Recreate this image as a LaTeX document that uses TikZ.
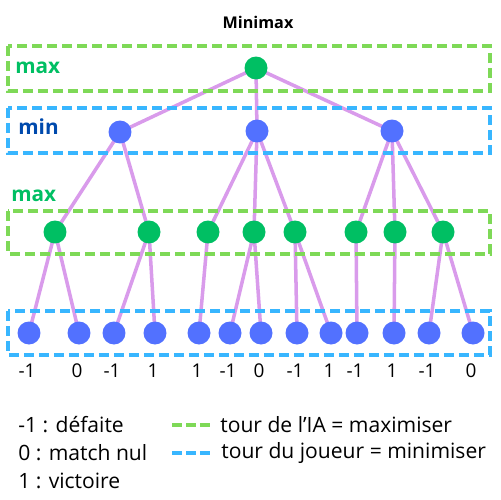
\documentclass[tikz,border=0pt]{standalone}
\usepackage{fontspec}
\setmainfont{Open Sans}
\definecolor{ngreen}{HTML}{00BF63}
\definecolor{nblue}{HTML}{5271FF}
\definecolor{edgec}{HTML}{D99BEB}
\definecolor{bgreen}{HTML}{7ED957}
\definecolor{bblue}{HTML}{38B6FF}
\definecolor{minlab}{HTML}{004AAD}
\pgfdeclarelayer{bg}
\pgfsetlayers{bg,main}
\begin{document}
\begin{tikzpicture}[x=0.02cm,y=-0.02cm,
  gnode/.style={circle,fill=ngreen,minimum size=0.46cm,inner sep=0pt},
  bnode/.style={circle,fill=nblue,minimum size=0.46cm,inner sep=0pt},
  edge/.style={draw=edgec,line width=2pt},
  gbox/.style={draw=bgreen,line width=2.2pt,dash pattern=on 0.2cm off 0.1cm},
  bbox/.style={draw=bblue,line width=2.2pt,dash pattern=on 0.2cm off 0.1cm},
  lab/.style={font=\fontsize{10.8}{12}\selectfont,inner sep=0pt},
  leg/.style={font=\fontsize{12}{14}\selectfont,inner sep=0pt,anchor=west},
  lvl/.style={font=\bfseries\fontsize{11.8}{13}\selectfont,anchor=west,inner sep=0pt}]
\useasboundingbox (0,0) rectangle (500,500);
% title
\node[font=\bfseries\fontsize{9.2}{11}\selectfont,inner sep=0pt] (title) at (258,22) {Minimax};
% boxes
\draw[gbox] (8,46) rectangle (490,91);
\draw[bbox] (8,108) rectangle (490,153);
\draw[gbox] (8,211) rectangle (490,254);
\draw[bbox] (8,311) rectangle (490,355);
% level labels
\node[lvl,text=ngreen] (l1) at (15,68) {max};
\node[lvl,text=minlab] (l2) at (18,127) {min};
\node[lvl,text=ngreen] (l3) at (11,196) {max};
% nodes
\node[gnode] (r) at (256,68) {};
\node[bnode] (m1) at (120,132) {};
\node[bnode] (m2) at (257,131) {};
\node[bnode] (m3) at (392,131) {};
\foreach \n/\x in {1/55,2/149,3/208,4/254,5/295,6/356,7/395,8/443}
  \node[gnode] (a\n) at (\x,232) {};
\foreach \n/\x/\v in {1/29/-1,2/79/0,3/114/-1,4/155/1,5/199/1,6/230/-1,7/261/0,8/297/-1,9/331/1,10/357/-1,11/394/1,12/429/-1,13/473/0}{
  \node[bnode] (f\n) at (\x,333) {};
  \node[lab] (v\n) at (\x-2,371) {\v};
}
% edges
\begin{pgfonlayer}{bg}
\foreach \a/\b in {r/m1,r/m2,r/m3,m1/a1,m1/a2,m2/a3,m2/a4,m2/a5,m3/a6,m3/a7,m3/a8,
  a1/f1,a1/f2,a2/f3,a2/f4,a3/f5,a4/f6,a4/f7,a5/f8,a5/f9,a6/f10,a7/f11,a8/f12,a8/f13}
  \draw[edge] (\a.center) -- (\b.center);
\end{pgfonlayer}
% legend
\node[leg] (k1) at (18,425) {-1 : défaite};
\node[leg] (k2) at (18,453) {0 : match nul};
\node[leg] (k3) at (18,481) {1 : victoire};
\coordinate (g1) at (172,425);
\coordinate (g2) at (212,425);
\coordinate (b1) at (172,453);
\coordinate (b2) at (212,453);
\draw[draw=bgreen,line width=2.2pt,dash pattern=on 0.2cm off 0.08cm] (g1) -- (g2);
\draw[draw=bblue,line width=2.2pt,dash pattern=on 0.2cm off 0.08cm] (b1) -- (b2);
\node[leg] (t1) at (220,425) {tour de l’IA = maximiser};
\node[leg] (t2) at (221,453) {tour du joueur = minimiser};
\end{tikzpicture}
\end{document}
